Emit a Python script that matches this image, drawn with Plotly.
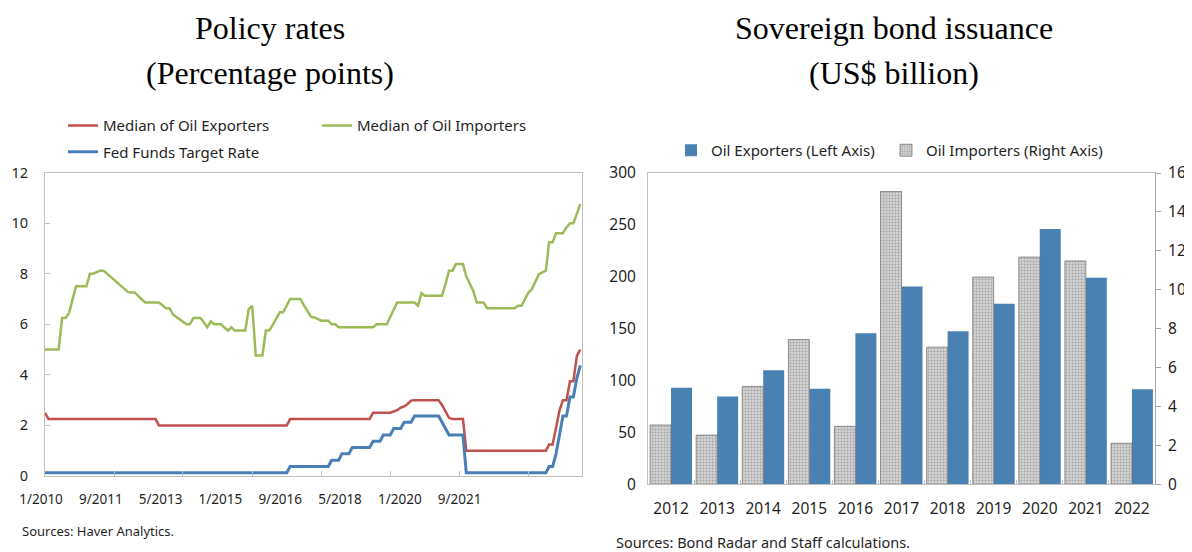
import plotly.graph_objects as go
import pandas as pd

# The page body adds an 8 px margin; the figure fills the rest of the 1192x552 window.
PAGE_W, PAGE_H, BODY_MARGIN = 1192, 552, 8
W, H = PAGE_W - BODY_MARGIN, PAGE_H - BODY_MARGIN

# ---------------- Left panel: policy rates (monthly, 1/2010 - 12/2022) ----------------
month_dates = pd.date_range("2010-01-01", periods=156, freq="MS")

oil_exporters_median = (
    [2.5] + [2.25] * 11 +                                   # 2010
    [2.25] * 12 +                                           # 2011
    [2.25] * 9 + [2.0] * 3 +                                # 2012
    [2.0] * 12 +                                            # 2013
    [2.0] * 12 +                                            # 2014
    [2.0] * 11 + [2.25] +                                   # 2015
    [2.25] * 12 +                                           # 2016
    [2.25] * 11 + [2.5] +                                   # 2017
    [2.5, 2.5, 2.5, 2.5, 2.5, 2.55, 2.6, 2.7, 2.75, 2.85, 2.98, 3.0] +   # 2018
    [3.0] * 7 + [2.8, 2.55, 2.3, 2.25, 2.25] +              # 2019
    [2.25, 2.25] + [1.0] * 10 +                             # 2020
    [1.0] * 12 +                                            # 2021
    [1.0, 1.0, 1.25, 1.25, 1.9, 2.6, 3.0, 3.0, 3.75, 3.75, 4.75, 5.0]    # 2022
)

oil_importers_median = [
    5.0, 5.0, 5.0, 5.0, 5.0, 6.25, 6.25, 6.45, 7.0, 7.5, 7.5, 7.5,            # 2010
    7.5, 8.0, 8.0, 8.06, 8.12, 8.12, 8.0, 7.88, 7.76, 7.65, 7.53, 7.4,        # 2011
    7.28, 7.26, 7.26, 7.12, 6.99, 6.86, 6.86, 6.86, 6.86, 6.86, 6.75, 6.63,   # 2012
    6.63, 6.4, 6.3, 6.2, 6.1, 6.0, 6.0, 6.25, 6.25, 6.25, 6.07, 5.88,         # 2013
    6.11, 6.0, 6.0, 6.0, 5.87, 5.75, 5.88, 5.75, 5.75, 5.75, 5.75, 6.6,       # 2014
    6.73, 4.76, 4.76, 4.76, 5.75, 5.75, 5.98, 6.23, 6.47, 6.47, 6.73, 7.0,    # 2015
    7.0, 7.0, 7.0, 6.75, 6.55, 6.3, 6.27, 6.2, 6.14, 6.14, 6.14, 6.0,         # 2016
    6.0, 5.88, 5.88, 5.88, 5.88, 5.88, 5.88, 5.88, 5.88, 5.88, 5.88, 5.88,    # 2017
    6.0, 6.0, 6.0, 6.0, 6.29, 6.58, 6.86, 6.86, 6.86, 6.86, 6.86, 6.86,       # 2018
    6.73, 7.23, 7.13, 7.13, 7.13, 7.13, 7.13, 7.13, 7.6, 8.12, 8.12, 8.38,    # 2019
    8.38, 8.38, 7.9, 7.6, 7.33, 6.86, 6.86, 6.86, 6.63, 6.63, 6.63, 6.63,     # 2020
    6.63, 6.63, 6.63, 6.63, 6.63, 6.73, 6.73, 7.0, 7.26, 7.39, 7.7, 7.98,     # 2021
    8.05, 8.12, 9.24, 9.24, 9.6, 9.6, 9.6, 9.83, 9.99, 9.99, 10.36, 10.75,    # 2022
]

fed_funds_target = (
    [0.125] * 60 +                                                        # 2010-2014
    [0.125] * 11 + [0.375] +                                              # 2015
    [0.375] * 11 + [0.625] +                                              # 2016
    [0.625, 0.625, 0.875, 0.875, 0.875] + [1.125] * 6 + [1.375] +         # 2017
    [1.375, 1.375, 1.625, 1.625, 1.625, 1.875, 1.875, 1.875,
     2.125, 2.125, 2.125, 2.375] +                                        # 2018
    [2.375] * 7 + [2.125, 1.875, 1.625, 1.625, 1.625] +                   # 2019
    [1.625, 1.625] + [0.125] * 10 +                                       # 2020
    [0.125] * 12 +                                                        # 2021
    [0.125, 0.125, 0.375, 0.375, 0.875, 1.625, 2.375, 2.375,
     3.125, 3.125, 3.875, 4.375]                                          # 2022
)

x_tick_dates = ["2010-01-01", "2011-09-01", "2013-05-01", "2015-01-01",
                "2016-09-01", "2018-05-01", "2020-01-01", "2021-09-01"]
x_tick_labels = ["1/2010", "9/2011", "5/2013", "1/2015",
                 "9/2016", "5/2018", "1/2020", "9/2021"]
left_y_ticks = [0, 2, 4, 6, 8, 10, 12]

# ---------------- Right panel: sovereign bond issuance ----------------
issue_years = ["2012", "2013", "2014", "2015", "2016", "2017",
               "2018", "2019", "2020", "2021", "2022"]
exporters_issuance = [93, 84.5, 110, 92, 145.5, 190.5, 147.5, 174, 246, 199, 91.5]   # left axis
importers_issuance = [3.05, 2.53, 5.03, 7.44, 2.98, 15.05, 7.05, 10.65, 11.68, 11.48, 2.11]  # right axis

# ---------------- styling helpers (page pixels -> paper fractions) ----------------
def px_x(x):
    return (x - BODY_MARGIN) / W

def px_y(y):
    return 1 - (y - BODY_MARGIN) / H

SANS = "Noto Sans"
SERIF = "Liberation Serif"
TXT = "#1f1f1f"
AXC = "#bfbfbf"

RED = "#c0504d"
GREEN = "#9bbb59"
BLUE = "#4a7fb5"
BAR_BLUE = "#4a81b3"

fig = go.Figure()

# empty trace that only binds the label axis (x3) so its tick labels get drawn
fig.add_trace(go.Scatter(x=[], y=[], xaxis="x3", yaxis="y", showlegend=False,
                         hoverinfo="skip"))
fig.add_trace(go.Scatter(x=month_dates, y=oil_exporters_median, mode="lines",
                         name="Median of Oil Exporters",
                         line=dict(color=RED, width=2.5),
                         xaxis="x", yaxis="y", legend="legend"))
fig.add_trace(go.Scatter(x=month_dates, y=oil_importers_median, mode="lines",
                         name="Median of Oil Importers",
                         line=dict(color=GREEN, width=2.5),
                         xaxis="x", yaxis="y", legend="legend"))
fig.add_trace(go.Scatter(x=month_dates, y=fed_funds_target, mode="lines",
                         name="Fed Funds Target Rate",
                         line=dict(color=BLUE, width=3),
                         xaxis="x", yaxis="y", legend="legend2"))

BW = 0.455
fig.add_trace(go.Bar(x=issue_years, y=exporters_issuance,
                     name="Oil Exporters (Left Axis)",
                     marker=dict(color=BAR_BLUE, line=dict(width=0)),
                     width=BW, offset=0, legendwidth=170,
                     xaxis="x2", yaxis="y2", legend="legend3"))
fig.add_trace(go.Bar(x=issue_years, y=importers_issuance,
                     name="Oil Importers (Right Axis)",
                     marker=dict(color="#c4c4c4",
                                 pattern=dict(shape=".", fgcolor="#777777",
                                              bgcolor="#d2d2d2", size=3, solidity=0.35),
                                 line=dict(color="#6a6a6a", width=0.7)),
                     width=BW, offset=-BW, legendwidth=210,
                     xaxis="x2", yaxis="y3", legend="legend3"))

left_dom_x = [px_x(45), px_x(582)]
left_dom_y = [px_y(476), px_y(172.5)]
right_dom_x = [px_x(648), px_x(1155)]
right_dom_y = [px_y(484.3), px_y(173)]

# label axis for the left panel: labels are evenly spaced 59.8 px apart from x=41
lab_dom = [0.0, px_x(600)]
lab_span = (600 - BODY_MARGIN) / 59.8
lab_start = -(41 - BODY_MARGIN) / 59.8

fig.update_layout(
    width=W, height=H,
    margin=dict(l=0, r=0, t=0, b=0, autoexpand=False),
    paper_bgcolor="white", plot_bgcolor="rgba(0,0,0,0)",
    font=dict(family=SANS, color=TXT),
    barmode="overlay",
    xaxis=dict(domain=left_dom_x, anchor="y", type="date",
               range=["2010-01-01", "2022-12-16"],
               tickvals=x_tick_dates, showticklabels=False,
               ticks="inside", ticklen=5, tickcolor=AXC,
               showline=True, linecolor=AXC, linewidth=1, mirror=True,
               showgrid=False, zeroline=False),
    xaxis3=dict(domain=lab_dom, anchor="y",
                range=[lab_start, lab_start + lab_span],
                tickvals=list(range(len(x_tick_labels))), ticktext=x_tick_labels,
                ticks="", showline=False, showgrid=False, zeroline=False,
                tickfont=dict(size=13.5, color=TXT), ticklabelstandoff=13),
    yaxis=dict(domain=left_dom_y, anchor="x", range=[0, 12],
               tickvals=left_y_ticks,
               ticks="inside", ticklen=5, tickcolor=AXC,
               showline=True, linecolor=AXC, linewidth=1, mirror=True,
               showgrid=False, zeroline=False,
               tickfont=dict(size=14.5, color=TXT), ticklabelstandoff=13),
    xaxis2=dict(domain=right_dom_x, anchor="y2", type="category",
                range=[-0.5, len(issue_years) - 0.5],
                ticks="inside", tickson="boundaries", ticklen=4, tickcolor=AXC,
                showline=True, linecolor=AXC, linewidth=1, mirror=True,
                showgrid=False, zeroline=False,
                tickfont=dict(size=15.5, color=TXT), ticklabelstandoff=10),
    yaxis2=dict(domain=right_dom_y, anchor="x2", range=[0, 300], dtick=50,
                ticks="", showline=True, linecolor=AXC, linewidth=1, mirror=True,
                showgrid=False, zeroline=False,
                tickfont=dict(size=15.5, color=TXT), ticklabelstandoff=8),
    yaxis3=dict(overlaying="y2", anchor="x2", side="right", range=[0, 16], dtick=2,
                ticks="outside", ticklen=5, tickcolor="#a6a6a6",
                showline=True, linecolor="#a6a6a6", linewidth=1,
                showgrid=False, zeroline=False,
                tickfont=dict(size=15.5, color=TXT), ticklabelstandoff=4),
    legend=dict(x=px_x(63), y=px_y(125.7), xanchor="left", yanchor="middle",
                orientation="h", entrywidth=209, entrywidthmode="pixels",
                font=dict(size=15, color=TXT), bgcolor="rgba(0,0,0,0)"),
    legend2=dict(x=px_x(63), y=px_y(152), xanchor="left", yanchor="middle",
                 orientation="h",
                 font=dict(size=15, color=TXT), bgcolor="rgba(0,0,0,0)"),
    legend3=dict(x=px_x(671), y=px_y(150.5), xanchor="left", yanchor="middle",
                 orientation="h",
                 font=dict(size=15, color=TXT), bgcolor="rgba(0,0,0,0)"),
    showlegend=True,
)

annotations = [
    dict(text="Policy rates", x=px_x(270), y=px_y(28), size=32, fam=SERIF, xa="center"),
    dict(text="(Percentage points)", x=px_x(270), y=px_y(73), size=32, fam=SERIF, xa="center"),
    dict(text="Sovereign bond issuance", x=px_x(894), y=px_y(28), size=32, fam=SERIF, xa="center"),
    dict(text="(US$ billion)", x=px_x(894), y=px_y(73), size=32, fam=SERIF, xa="center"),
    dict(text="Sources: Haver Analytics.", x=px_x(20), y=px_y(531), size=13, fam=SANS, xa="left"),
    dict(text="Sources: Bond Radar and Staff calculations.", x=px_x(614), y=px_y(541.5),
         size=14.5, fam=SANS, xa="left"),
]
for a in annotations:
    fig.add_annotation(text=a["text"], x=a["x"], y=a["y"], xref="paper", yref="paper",
                       xanchor=a["xa"], yanchor="middle", showarrow=False,
                       font=dict(family=a["fam"], size=a["size"],
                                 color="#000" if a["fam"] == SERIF else TXT))

fig.write_html("out.html")
